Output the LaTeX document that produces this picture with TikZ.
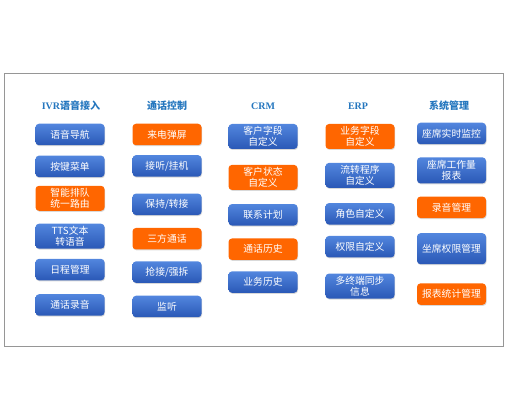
\documentclass[tikz,border=0pt]{standalone}
\usepackage{fontspec}
\newfontfamily\cjk{Noto Sans CJK SC}
\newfontfamily\hdlat{Liberation Serif}
\usepackage{xcolor}
\usetikzlibrary{positioning,shadows}

\definecolor{blutop}{RGB}{82,134,222}
\definecolor{blubot}{RGB}{42,88,182}
\definecolor{orng}{RGB}{255,102,0}
\definecolor{hdblue}{RGB}{36,118,190}
\definecolor{frgray}{RGB}{150,150,150}

\begin{document}
\begin{tikzpicture}[x=1pt, y=1pt,
    box/.style={rounded corners=3.5pt, minimum width=69pt, minimum height=21.5pt,
                inner sep=1pt, text=white, align=center,
                font=\cjk\fontsize{9.8}{11.3}\selectfont,
                drop shadow={shadow xshift=0.6pt, shadow yshift=-1pt, opacity=0.3}},
    blu/.style={box, top color=blutop, bottom color=blubot},
    org/.style={box, fill=orng},
    two/.style={minimum height=25pt},
    head/.style={font=\cjk\bfseries\fontsize{10}{12}\selectfont, text=hdblue}
]
    \useasboundingbox (0,0) rectangle (517,401);
    \draw[frgray, line width=0.8pt] (4,55) rectangle (503,328);

    % headers
    \node[head] (ivr) at (71,295) {{\hdlat IVR}语音接入};
    \node[head] (ctl) at (167,295) {通话控制};
    \node[head] (crm) at (263,295) {\hdlat CRM};
    \node[head] (erp) at (358,295) {\hdlat ERP};
    \node[head] (sys) at (449,295) {系统管理};

    % IVR
    \node[blu] (nav) at (70,266.5) {语音导航};
    \node[blu, below=10pt of nav] (key) {按键菜单};
    \node[org, two, below=8.25pt of key] (queue) {智能排队\\统一路由};
    \node[blu, two, below=12.5pt of queue] (tts) {TTS文本\\转语音};
    \node[blu, below=9.75pt of tts] (sched) {日程管理};
    \node[blu, below=13.5pt of sched] (rec) {通话录音};

    % call control
    \node[org] (pop) at (167,266.5) {来电弹屏};
    \node[blu, below=9.5pt of pop] (ans) {接听/挂机};
    \node[blu, below=16.5pt of ans] (hold) {保持/转接};
    \node[org, below=12.5pt of hold] (conf) {三方通话};
    \node[blu, below=11.5pt of conf] (grab) {抢接/强拆};
    \node[blu, below=12.5pt of grab] (mon) {监听};

    % CRM
    \node[blu, two] (cfield) at (263,264.5) {客户字段\\自定义};
    \node[org, two, below=15.5pt of cfield] (cstate) {客户状态\\自定义};
    \node[blu, below=13.75pt of cstate] (plan) {联系计划};
    \node[org, below=12.5pt of plan] (chist) {通话历史};
    \node[blu, below=11pt of chist] (bhist) {业务历史};

    % ERP
    \node[org, two] (bfield) at (360,264.5) {业务字段\\自定义};
    \node[blu, two, below=13.5pt of bfield] (flow) {流转程序\\自定义};
    \node[blu, below=14.75pt of flow] (role) {角色自定义};
    \node[blu, below=11pt of role] (perm) {权限自定义};
    \node[blu, two, below=15.75pt of perm] (sync) {多终端同步\\信息};

    % system
    \node[blu] (rtmon) at (451.5,267.5) {座席实时监控};
    \node[blu, minimum height=26pt, below=12.75pt of rtmon] (load) {座席工作量\\报表};
    \node[org, below=12.75pt of load] (recm) {录音管理};
    \node[blu, minimum height=31pt, below=14.75pt of recm] (sperm) {坐席权限管理};
    \node[org, below=18.75pt of sperm] (stat) {报表统计管理};
\end{tikzpicture}
\end{document}
